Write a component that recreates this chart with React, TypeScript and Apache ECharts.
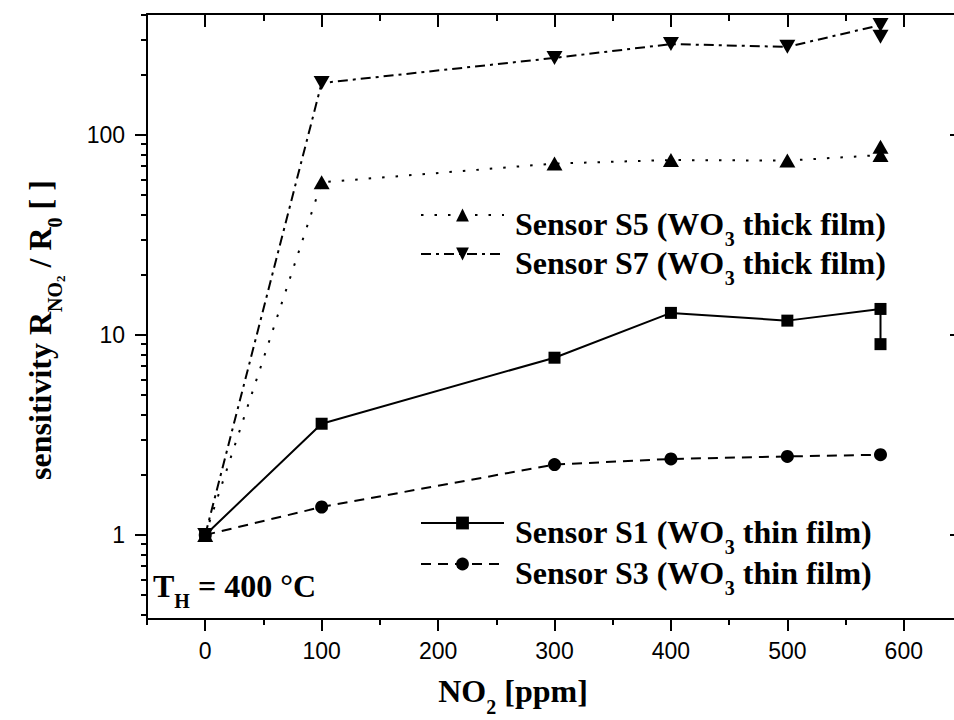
import React, { useEffect, useRef } from 'react';
import * as echarts from 'echarts';

// ---- data ----
const concentration = [0, 100, 300, 400, 500, 580, 580];
const concentrationS3 = [0, 100, 300, 400, 500, 580];
const sensorS1 = [1, 3.6, 7.7, 12.9, 11.8, 13.5, 9.0];
const sensorS3 = [1, 1.38, 2.25, 2.4, 2.47, 2.52];
const sensorS5 = [1, 58, 72, 75, 74.5, 79.4, 87.5];
const sensorS7 = [1, 182, 243, 285, 276, 355, 310];

const nameS1 = 'Sensor S1 (WO3 thin film)';
const nameS3 = 'Sensor S3 (WO3 thin film)';
const nameS5 = 'Sensor S5 (WO3 thick film)';
const nameS7 = 'Sensor S7 (WO3 thick film)';

const xMajorTicks = [0, 100, 200, 300, 400, 500, 600];
const xMinorTicks = [-50, 50, 150, 250, 350, 450, 550, 650];
const yMajorTicks = [1, 10, 100];
const yMinorTicks = [0.4, 0.5, 0.6, 0.7, 0.8, 0.9, 2, 3, 4, 5, 6, 7, 8, 9, 20, 30, 40, 50, 60, 70, 80, 90, 200, 300, 400];

const serif = "'Liberation Serif', 'Times New Roman', serif";
const sans = "'Liberation Sans', Arial, sans-serif";
const black = '#000';

function makeRich(colorKey: string) {
  const base = (size: number, lh: number, pad: number[]) => ({
    fontFamily: serif,
    fontWeight: 'bold',
    fontSize: size,
    lineHeight: lh,
    verticalAlign: 'top',
    padding: pad,
    [colorKey]: black,
  });
  return {
    m: base(32, 32, [9, 0, 0, 0]),
    m0: base(32, 32, [9, 0, 0, 6]),
    s: base(20, 20, [30, 0, 0, 0]),
    ss: base(13, 13, [39, 0, 0, 0]),
    // compact variants (no extra space below the block)
    cm: base(32, 32, [0, 0, 0, 0]),
    cs: base(20, 14, [22, 0, 0, 0]),
  };
}

const legendRich = makeRich('color');
const graphicRich = makeRich('fill');

const legendFormatter = (name: string) => {
  const parts = name.split('WO3');
  return `{m0|${parts[0]}WO}{s|3}{m|${parts[1]}}`;
};

const zip = (xs: number[], ys: number[]) => ys.map((y, i) => [xs[i], y]);

const tickLine = { color: black, width: 2 };
const axisLineOn = { show: true, onZero: false, lineStyle: { color: black, width: 2 } };
const axisLineOff = { show: false, onZero: false };

function xAxisDef(position: string, ticks: number[], length: number, inside: boolean, line: boolean, labels: boolean) {
  return {
    type: 'value',
    position,
    min: -50,
    max: 650,
    axisLine: line ? axisLineOn : axisLineOff,
    splitLine: { show: false },
    axisTick: { show: true, inside, length, lineStyle: tickLine, customValues: ticks },
    axisLabel: labels
      ? { show: true, customValues: ticks, margin: 20, color: black, fontFamily: sans, fontSize: 23 }
      : { show: false },
  };
}

function yAxisDef(position: string, ticks: number[], length: number, inside: boolean, line: boolean, labels: boolean) {
  return {
    type: 'log',
    logBase: 10,
    position,
    min: 0.38,
    max: 403,
    axisLine: line ? axisLineOn : axisLineOff,
    splitLine: { show: false },
    minorTick: { show: false },
    axisTick: { show: true, inside, length, lineStyle: tickLine, customValues: ticks },
    axisLabel: labels
      ? {
          show: true,
          customValues: ticks,
          margin: 22,
          color: black,
          fontFamily: sans,
          fontSize: 23,
          formatter: (v: number) => String(Math.round(v)),
        }
      : { show: false },
  };
}

function legendDef(name: string, centerY: number) {
  return {
    data: [name],
    left: 420,
    top: centerY - 25,
    padding: 0,
    itemWidth: 83,
    itemHeight: 16,
    selectedMode: false,
    formatter: legendFormatter,
    textStyle: { color: black, rich: legendRich },
  };
}

function buildOption() {
  return {
    animation: false,
    backgroundColor: '#fff',
    grid: { left: 147, right: 38, top: 14, bottom: 101, containLabel: false, outerBoundsMode: 'none' },
    xAxis: [
      xAxisDef('bottom', xMajorTicks, 12, false, true, true),
      xAxisDef('bottom', xMinorTicks, 6, false, false, false),
      xAxisDef('top', xMajorTicks, 13, true, true, false),
      xAxisDef('top', xMinorTicks, 7, true, false, false),
    ],
    yAxis: [
      yAxisDef('left', yMajorTicks, 12, false, true, true),
      yAxisDef('left', yMinorTicks, 6, false, false, false),
      yAxisDef('right', yMajorTicks, 12, true, true, false),
    ],
    legend: [
      legendDef(nameS5, 224),
      legendDef(nameS7, 263),
      legendDef(nameS1, 532),
      legendDef(nameS3, 573),
    ],
    series: [
      {
        type: 'line',
        name: nameS1,
        data: zip(concentration, sensorS1),
        symbol: 'rect',
        symbolSize: 12,
        lineStyle: { color: black, width: 2, type: 'solid' },
        itemStyle: { color: black },
      },
      {
        type: 'line',
        name: nameS3,
        data: zip(concentrationS3, sensorS3),
        symbol: 'circle',
        symbolSize: 13,
        lineStyle: { color: black, width: 2, type: [10, 7] },
        itemStyle: { color: black },
      },
      {
        type: 'line',
        name: nameS5,
        data: zip(concentration, sensorS5),
        symbol: 'triangle',
        symbolSize: [16, 14],
        lineStyle: { color: black, width: 2, type: [2.5, 11] },
        itemStyle: { color: black },
      },
      {
        type: 'line',
        name: nameS7,
        data: zip(concentration, sensorS7),
        symbol: 'triangle',
        symbolRotate: 180,
        symbolSize: [16, 14],
        lineStyle: { color: black, width: 2, type: [10, 5, 3, 5] },
        itemStyle: { color: black },
      },
    ],
    graphic: [
      {
        type: 'text',
        x: 31,
        y: 330,
        rotation: Math.PI / 2,
        style: {
          text: '{m|sensitivity R}{s|NO}{ss|2}{m| / R}{s|0}{m| [ ]}',
          rich: graphicRich,
          align: 'center',
          verticalAlign: 'middle',
          fill: black,
        },
      },
      {
        type: 'text',
        x: 513,
        y: 675,
        style: {
          text: '{cm|NO}{cs|2}{cm| [ppm]}',
          rich: graphicRich,
          align: 'center',
          verticalAlign: 'top',
          fill: black,
        },
      },
      {
        type: 'text',
        x: 153,
        y: 561,
        style: {
          text: '{m|T}{s|H}{m| = 400 °C}',
          rich: graphicRich,
          align: 'left',
          verticalAlign: 'top',
          fill: black,
        },
      },
    ],
  };
}

export default function App() {
  const ref = useRef<HTMLDivElement>(null);
  useEffect(() => {
    if (!ref.current) return;
    const chart = echarts.init(ref.current, null, { renderer: 'svg' });
    chart.setOption(buildOption() as any);
    return () => chart.dispose();
  }, []);
  return (
    <div
      style={{
        position: 'absolute',
        left: 0,
        top: 0,
        width: 954,
        height: 720,
        overflow: 'hidden',
        background: '#fff',
      }}
    >
      <div ref={ref} style={{ width: 1000, height: 720 }} />
    </div>
  );
}
